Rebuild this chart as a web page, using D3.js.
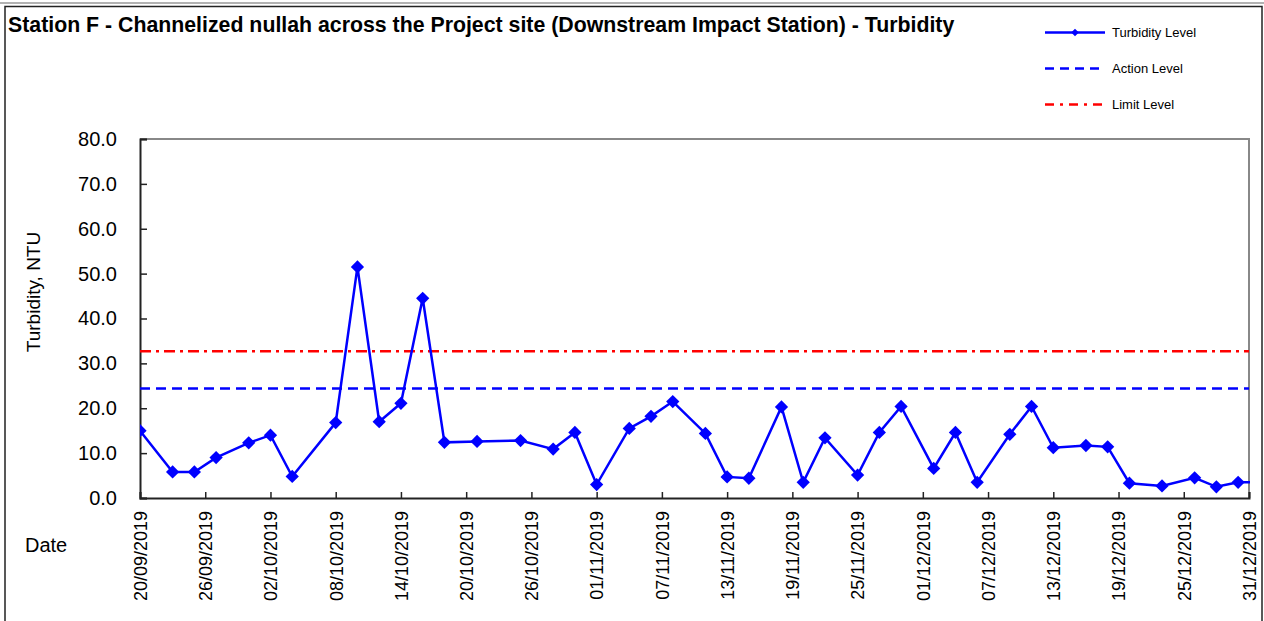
<!DOCTYPE html>
<html>
<head>
<meta charset="utf-8">
<script src="https://cdn.jsdelivr.net/npm/d3@7"></script>
<style>
  body { margin: 0; background: #fff; }
  text { font-family: "Liberation Sans", Arial, sans-serif; fill: #000; }
</style>
</head>
<body>
<div id="chart"></div>
<script>
// sampling dates (dd/mm/yyyy) and turbidity readings, NTU
var sampleDates = ["20/09/2019", "23/09/2019", "25/09/2019", "27/09/2019", "30/09/2019",
  "02/10/2019", "04/10/2019", "08/10/2019", "10/10/2019", "12/10/2019", "14/10/2019",
  "16/10/2019", "18/10/2019", "21/10/2019", "25/10/2019", "28/10/2019", "30/10/2019",
  "01/11/2019", "04/11/2019", "06/11/2019", "08/11/2019", "11/11/2019", "13/11/2019",
  "15/11/2019", "18/11/2019", "20/11/2019", "22/11/2019", "25/11/2019", "27/11/2019",
  "29/11/2019", "02/12/2019", "04/12/2019", "06/12/2019", "09/12/2019", "11/12/2019",
  "13/12/2019", "16/12/2019", "18/12/2019", "20/12/2019", "23/12/2019", "26/12/2019",
  "28/12/2019", "30/12/2019", "02/01/2020"];
var turbidity = [15.0, 5.8, 5.8, 9.0, 12.3,
  14.0, 4.8, 16.8, 51.5, 17.0, 21.1,
  44.5, 12.4, 12.6, 12.8, 10.9, 14.6,
  3.0, 15.5, 18.2, 21.5, 14.4, 4.7,
  4.4, 20.3, 3.5, 13.4, 5.1, 14.6,
  20.4, 6.6, 14.6, 3.5, 14.2, 20.4,
  11.2, 11.7, 11.4, 3.3, 2.7, 4.5,
  2.5, 3.5, 3.5];
var actionLevel = 24.4;
var limitLevel = 32.7;

var yTicks = [0, 10, 20, 30, 40, 50, 60, 70, 80];
var xTickLabels = ["20/09/2019", "26/09/2019", "02/10/2019", "08/10/2019", "14/10/2019",
  "20/10/2019", "26/10/2019", "01/11/2019", "07/11/2019", "13/11/2019", "19/11/2019",
  "25/11/2019", "01/12/2019", "07/12/2019", "13/12/2019", "19/12/2019", "25/12/2019",
  "31/12/2019"];
var legendNames = ["Turbidity Level", "Action Level", "Limit Level"];

var parseDate = d3.timeParse("%d/%m/%Y");
var formatDate = d3.timeFormat("%d/%m/%Y");

var data = sampleDates.map(function(d, i) {
  return { date: parseDate(d), value: turbidity[i] };
});
var tickDates = xTickLabels.map(parseDate);

var width = 1264, height = 621;
var plot = { left: 140, right: 1249, top: 139, bottom: 498 };

var svg = d3.select("#chart").append("svg")
  .attr("width", width)
  .attr("height", height);

// outer frame
svg.append("line")
  .attr("x1", 0).attr("x2", width)
  .attr("y1", 3).attr("y2", 3)
  .attr("stroke", "#999").attr("stroke-width", 1.5);
svg.append("rect")
  .attr("x", 5).attr("y", 6.5)
  .attr("width", 1257).attr("height", 620)
  .attr("fill", "#fff")
  .attr("stroke", "#222").attr("stroke-width", 1.5);

var x = d3.scaleTime()
  .domain([tickDates[0], tickDates[tickDates.length - 1]])
  .range([plot.left, plot.right]);

var y = d3.scaleLinear()
  .domain([0, 80])
  .range([plot.bottom, plot.top]);

// plot area border (top / right in grey)
svg.append("path")
  .attr("d", "M" + plot.left + "," + plot.top + "H" + plot.right + "V" + plot.bottom)
  .attr("fill", "none")
  .attr("stroke", "#888")
  .attr("stroke-width", 2);

var yAxis = d3.axisLeft(y)
  .tickValues(yTicks)
  .tickSize(-7)
  .tickPadding(23)
  .tickFormat(d3.format(".1f"));

var yg = svg.append("g")
  .attr("transform", "translate(" + plot.left + ",0)")
  .call(yAxis);
yg.select(".domain").attr("stroke", "#222").attr("stroke-width", 2);
yg.selectAll(".tick line").attr("stroke", "#222").attr("stroke-width", 1.5);
yg.selectAll(".tick text")
  .style("font-size", "20px")
  .attr("fill", "#000");

var xAxis = d3.axisBottom(x)
  .tickValues(tickDates)
  .tickSize(-6)
  .tickFormat(formatDate);

var xg = svg.append("g")
  .attr("transform", "translate(0," + plot.bottom + ")")
  .call(xAxis);
xg.select(".domain").attr("stroke", "#222").attr("stroke-width", 2);
xg.selectAll(".tick line").attr("stroke", "#222").attr("stroke-width", 1.5);
xg.selectAll(".tick text")
  .style("font-size", "18px")
  .style("text-anchor", "end")
  .attr("fill", "#000")
  .attr("x", -13)
  .attr("y", 0)
  .attr("dy", "0.35em")
  .attr("transform", "rotate(-90)");

// axis titles
svg.append("text")
  .attr("transform", "translate(40,292) rotate(-90)")
  .style("text-anchor", "middle")
  .style("font-size", "19px")
  .text("Turbidity, NTU");

svg.append("text")
  .attr("x", 25).attr("y", 552)
  .style("font-size", "20px")
  .text("Date");

// title
svg.append("text")
  .attr("x", 8).attr("y", 32)
  .style("font-size", "21.3px")
  .style("font-weight", "bold")
  .text("Station F - Channelized nullah across the Project site (Downstream Impact Station) - Turbidity");

svg.append("clipPath").attr("id", "plot-clip")
  .append("rect")
  .attr("x", plot.left).attr("y", plot.top - 10)
  .attr("width", plot.right - plot.left + 1).attr("height", plot.bottom - plot.top + 20);

var clipped = svg.append("g").attr("clip-path", "url(#plot-clip)");

// action and limit levels
clipped.append("line")
  .attr("x1", x.range()[0]).attr("x2", x.range()[1])
  .attr("y1", y(actionLevel)).attr("y2", y(actionLevel))
  .attr("stroke", "#0000ff")
  .attr("stroke-width", 2.5)
  .attr("stroke-dasharray", "10,6");

clipped.append("line")
  .attr("x1", x.range()[0]).attr("x2", x.range()[1])
  .attr("y1", y(limitLevel)).attr("y2", y(limitLevel))
  .attr("stroke", "#ff0000")
  .attr("stroke-width", 2.5)
  .attr("stroke-dasharray", "11,5,3,5");

var line = d3.line()
  .x(function(d) { return x(d.date); })
  .y(function(d) { return y(d.value); });

clipped.append("path")
  .datum(data)
  .attr("fill", "none")
  .attr("stroke", "#0000ff")
  .attr("stroke-width", 2.5)
  .attr("d", line);

var diamond = d3.symbol().type(d3.symbolSquare).size(88);

clipped.selectAll(".marker")
  .data(data.filter(function(d) { return d.date <= x.domain()[1]; }))
  .enter().append("path")
  .attr("class", "marker")
  .attr("d", diamond)
  .attr("fill", "#0000ff")
  .attr("transform", function(d) {
    return "translate(" + x(d.date) + "," + y(d.value) + ") rotate(45)";
  });

// legend
var legend = svg.selectAll(".legend")
  .data(legendNames)
  .enter().append("g")
  .attr("class", "legend")
  .attr("transform", function(d, i) {
    return "translate(1045," + (32.5 + i * 36) + ")";
  });

legend.append("line")
  .attr("x1", 0).attr("x2", 60)
  .attr("stroke", function(d, i) { return i == 2 ? "#ff0000" : "#0000ff"; })
  .attr("stroke-width", 2.5)
  .attr("stroke-dasharray", function(d, i) {
    return i == 0 ? null : (i == 1 ? "9,6" : "9,6,3,6");
  });

legend.filter(function(d, i) { return i == 0; })
  .append("path")
  .attr("d", d3.symbol().type(d3.symbolSquare).size(28))
  .attr("fill", "#0000ff")
  .attr("transform", "translate(30,0) rotate(45)");

legend.append("text")
  .attr("x", 67)
  .attr("dy", "0.35em")
  .style("font-size", "13px")
  .text(function(d) { return d; });
</script>
</body>
</html>
